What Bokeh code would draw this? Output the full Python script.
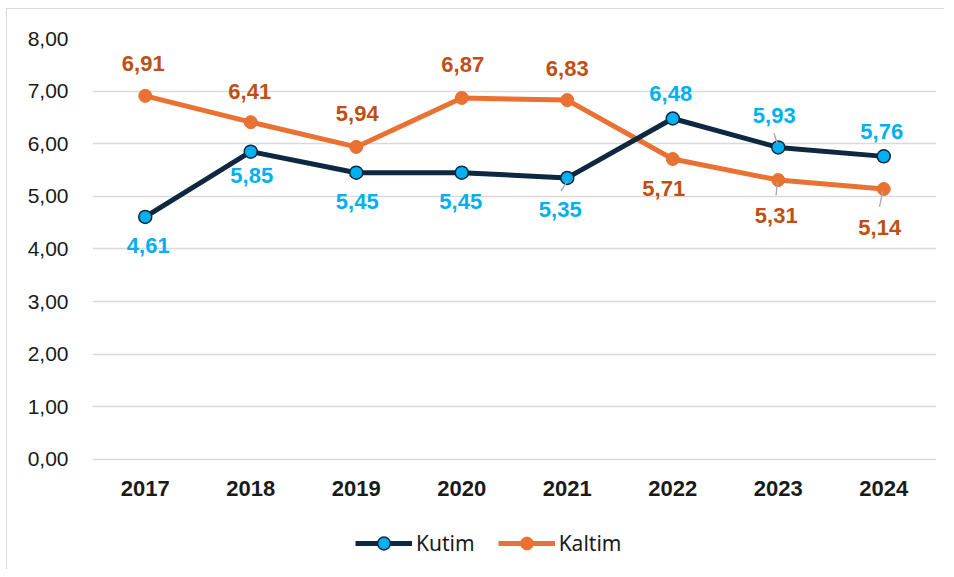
from bokeh.plotting import figure
from bokeh.models import (ColumnDataSource, Range1d, FactorRange, FixedTicker,
                          CustomJSTickFormatter, Legend, LegendItem)
from bokeh.transform import dodge
from bokeh.core.properties import value
from bokeh.embed import file_html
from bokeh.resources import INLINE

# ---- data ----
years = ["2017", "2018", "2019", "2020", "2021", "2022", "2023", "2024"]
kutim = [4.61, 5.85, 5.45, 5.45, 5.35, 6.48, 5.93, 5.76]
kaltim = [6.91, 6.41, 5.94, 6.87, 6.83, 5.71, 5.31, 5.14]
y_ticks = [0, 1, 2, 3, 4, 5, 6, 7, 8]
kutim_labels = ["4,61", "5,85", "5,45", "5,45", "5,35", "6,48", "5,93", "5,76"]
kaltim_labels = ["6,91", "6,41", "5,94", "6,87", "6,83", "5,71", "5,31", "5,14"]

# label placement (pixel offsets, style only)
kutim_dx = [3, 1, 1, -1, -7, -2, -4, -2]
kutim_dy = [29, 24, 29, 29, 32, -25, -32, -25]
kaltim_dx = [-2, -1, 1, 1, 0, -9, -2, -4]
kaltim_dy = [-32, -31, -33, -33, -32, 29, 35, 39]

KUTIM_LINE = "#0E2841"
KUTIM_FILL = "#00B0F0"
KALTIM = "#E97132"
KALTIM_TXT = "#C04F15"
GRID = "#D9D9D9"
TXT = "#1a1a1a"

# frame extends below zero to hold axis labels and legend (layout only)
Y_BOTTOM = -2.11

p = figure(width=938, height=561, x_range=FactorRange(*years, range_padding=0),
           y_range=Range1d(Y_BOTTOM, 8), output_backend="svg", toolbar_location=None,
           min_border_left=85, min_border_right=9, min_border_top=29,
           min_border_bottom=0)
p.styles = {"border-top": "1px solid #D9D9D9", "border-left": "1px solid #D9D9D9",
            "margin-left": "6px", "margin-top": "8px"}
p.outline_line_color = None
p.background_fill_color = "white"
p.border_fill_color = "white"

p.xgrid.visible = False
p.ygrid.ticker = FixedTicker(ticks=y_ticks)
p.ygrid.grid_line_color = GRID
p.ygrid.grid_line_width = 1.5

p.yaxis.ticker = FixedTicker(ticks=y_ticks)
p.yaxis.formatter = CustomJSTickFormatter(code="return tick.toFixed(2).replace('.', ',');")
for ax in (p.xaxis, p.yaxis):
    ax.axis_line_color = None
    ax.major_tick_line_color = None
    ax.minor_tick_line_color = None
    ax.major_tick_out = 0
    ax.major_tick_in = 0
    ax.major_label_text_font = "Liberation Sans"
    ax.major_label_text_color = TXT
p.yaxis.major_label_text_font_size = "21px"
p.yaxis.major_label_standoff = 24
p.xaxis.fixed_location = 0
p.xaxis.major_label_text_font_size = "22px"
p.xaxis.major_label_text_font_style = "bold"
p.xaxis.major_label_standoff = 22

src = ColumnDataSource(dict(x=years, kutim=kutim, kaltim=kaltim,
                            kutim_lab=kutim_labels, kaltim_lab=kaltim_labels,
                            kudx=kutim_dx, kudy=kutim_dy, kadx=kaltim_dx, kady=kaltim_dy))

ka_line = p.line("x", "kaltim", source=src, line_color=KALTIM, line_width=5)
ka_pts = p.scatter("x", "kaltim", source=src, size=13, fill_color=KALTIM,
                   line_color=KALTIM, line_width=1)
ku_line = p.line("x", "kutim", source=src, line_color=KUTIM_LINE, line_width=5)
ku_pts = p.scatter("x", "kutim", source=src, size=13, fill_color=KUTIM_FILL,
                   line_color=KUTIM_LINE, line_width=1.5)

# leader lines (offsets in category / value units)
leaders = [
    ("2021", kutim[4], 0.0, -0.06, -0.06, -0.25),
    ("2023", kutim[6], -0.04, -0.01, 0.27, 0.08),
    ("2023", kaltim[6], -0.01, -0.02, -0.04, -0.29),
    ("2024", kaltim[7], -0.01, -0.04, -0.04, -0.34),
]
for yr, v, dx0, dx1, dy0, dy1 in leaders:
    ls = ColumnDataSource(dict(x=[yr], y0=[v + dy0], y1=[v + dy1]))
    p.segment(x0=dodge("x", dx0, range=p.x_range), y0="y0",
              x1=dodge("x", dx1, range=p.x_range), y1="y1", source=ls,
              line_color="#A6A6A6", line_width=1.3)

p.text("x", "kaltim", text="kaltim_lab", source=src, x_offset="kadx", y_offset="kady",
       text_font=value("Liberation Sans"), text_font_style="bold",
       text_font_size="22px", text_color=KALTIM_TXT,
       text_align="center", text_baseline="middle")
p.text("x", "kutim", text="kutim_lab", source=src, x_offset="kudx", y_offset="kudy",
       text_font=value("Liberation Sans"), text_font_style="bold",
       text_font_size="22px", text_color=KUTIM_FILL,
       text_align="center", text_baseline="middle")

legend = Legend(items=[LegendItem(label="Kutim", renderers=[ku_line, ku_pts]),
                       LegendItem(label="Kaltim", renderers=[ka_line, ka_pts])],
                location=(263, 11), orientation="horizontal",
                glyph_width=57, glyph_height=32, label_standoff=4, spacing=23,
                padding=0, margin=0, border_line_color=None,
                background_fill_alpha=0,
                label_text_font="Noto Sans", label_text_font_size="21px",
                label_text_color=TXT)
p.add_layout(legend, "center")

open("out.html", "w").write(file_html(p, INLINE))
